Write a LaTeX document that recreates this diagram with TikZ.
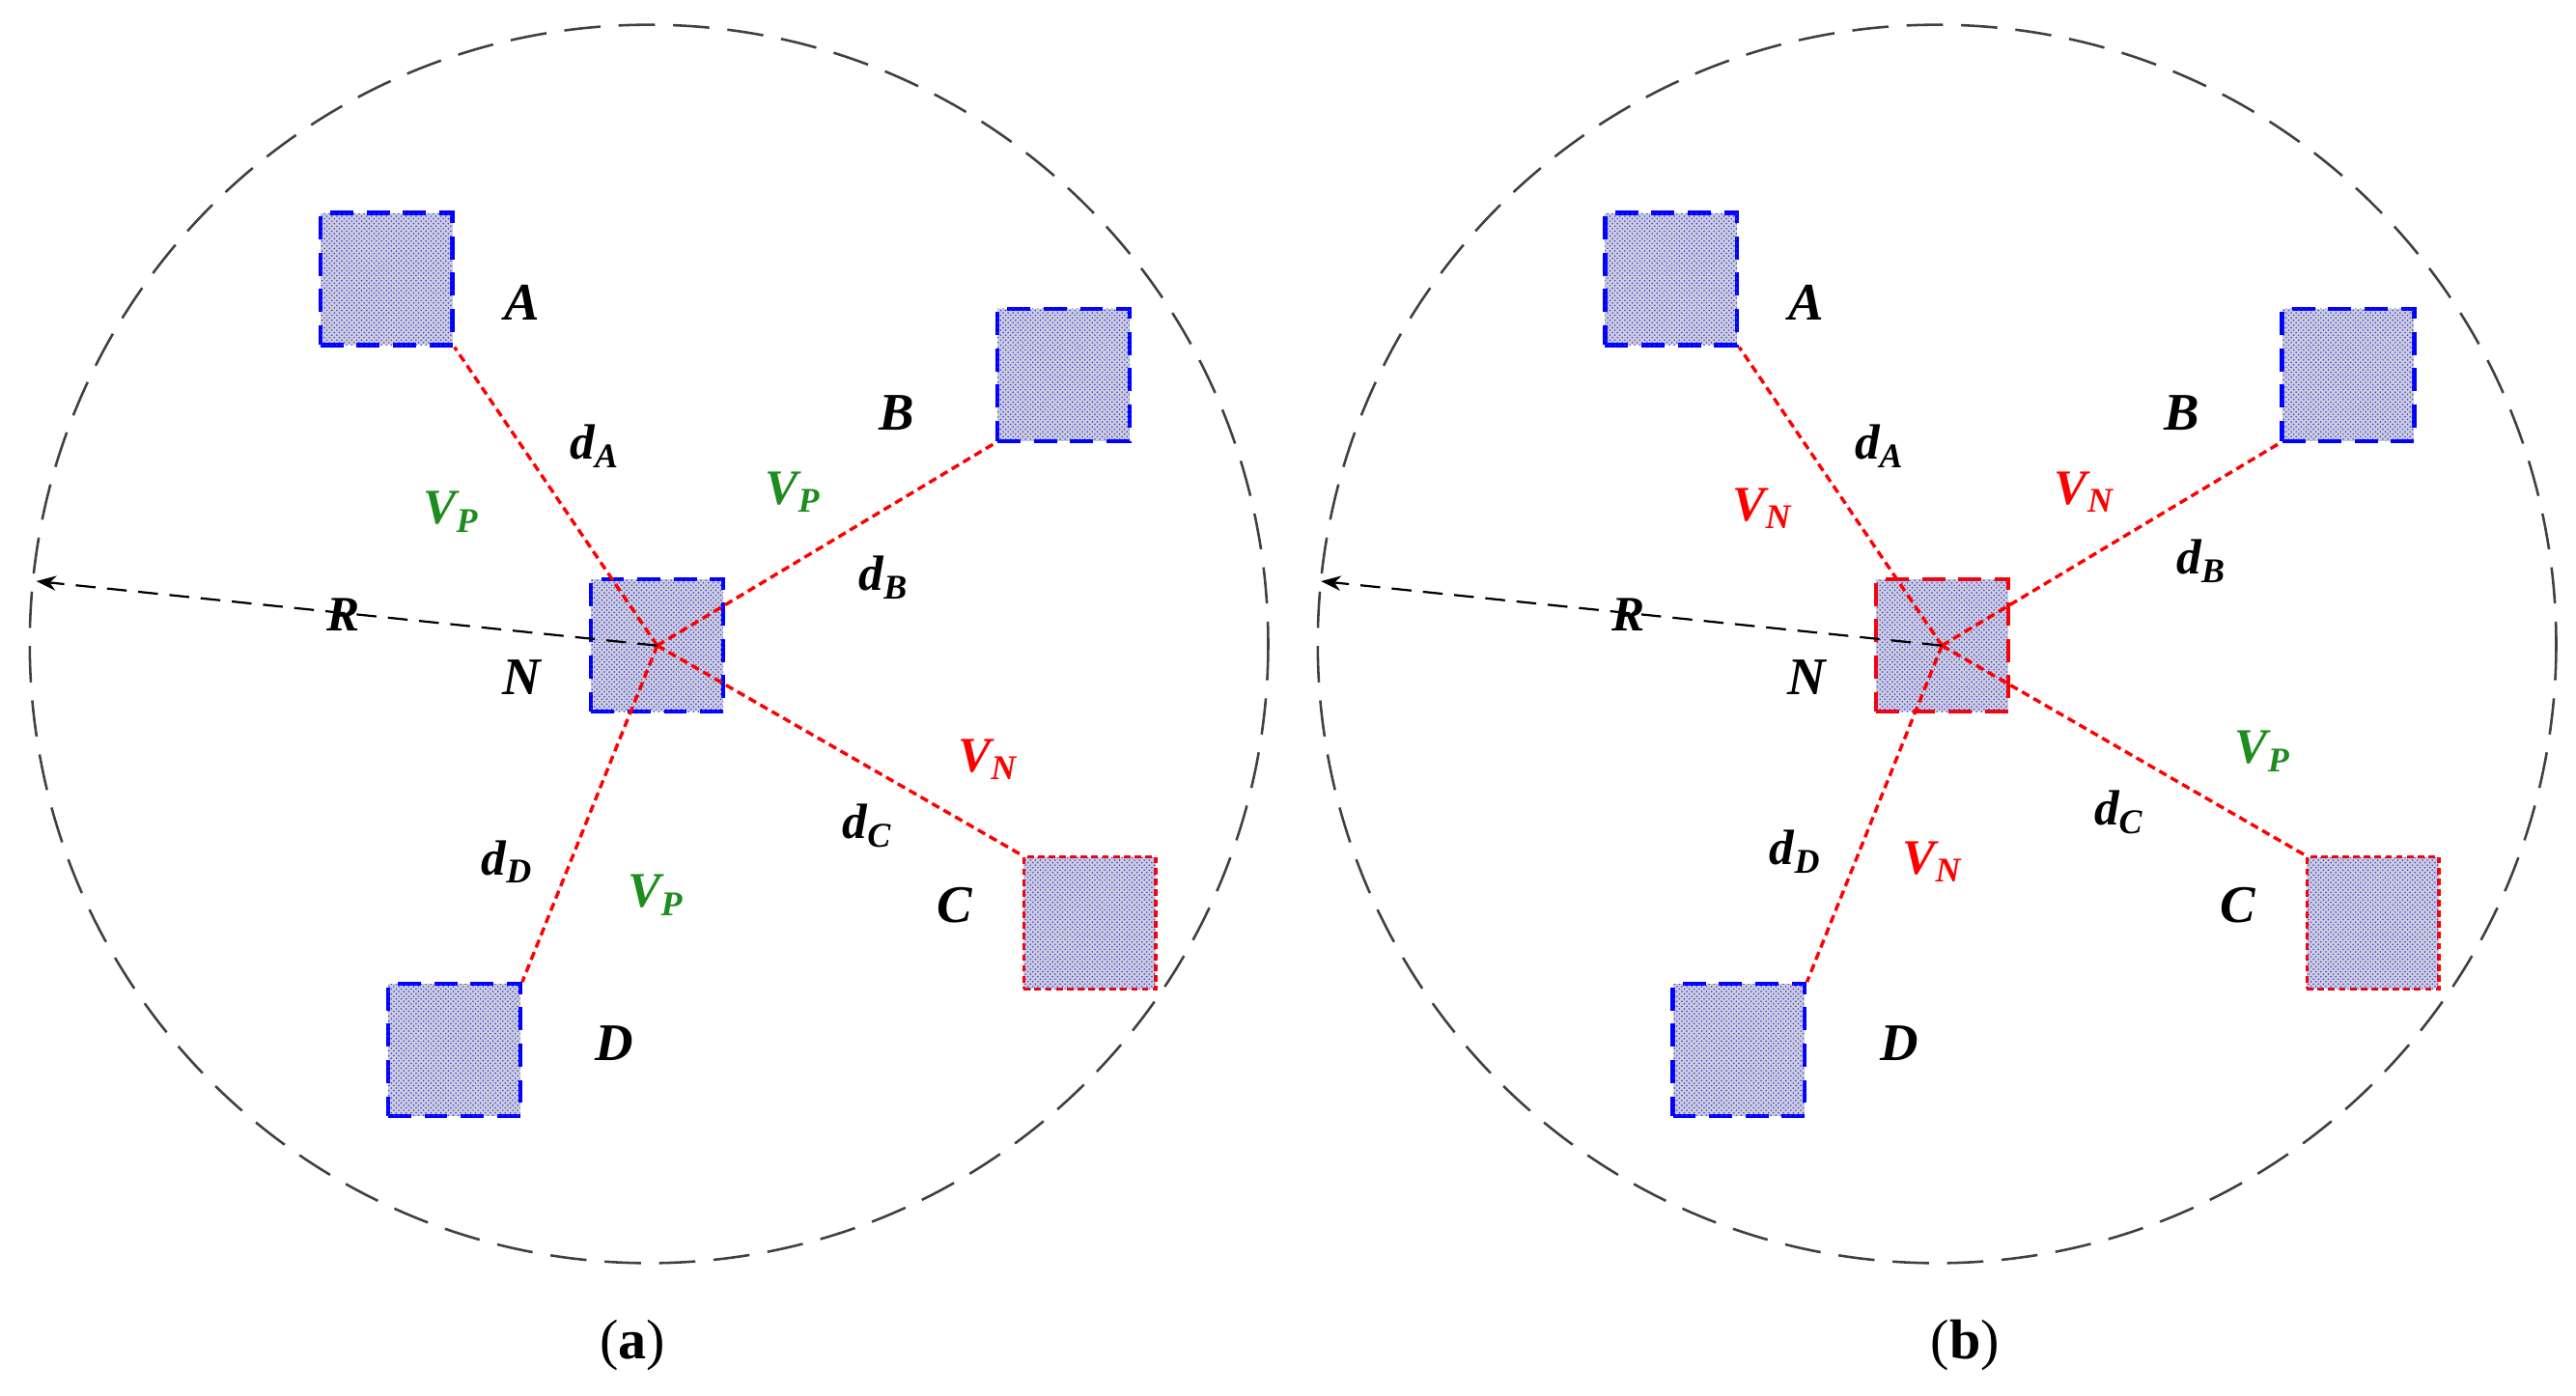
\documentclass[tikz,border=0pt]{standalone}
\usepackage{fontspec}
\setmainfont{Liberation Serif}
\usetikzlibrary{patterns,arrows.meta}
\definecolor{boxgray}{RGB}{205,205,215}
\definecolor{vgreen}{RGB}{30,140,30}
\begin{document}
\begin{tikzpicture}[x=1pt,y=-1pt,
 box/.style={minimum size=80pt,inner sep=0pt,draw=blue,line width=2.5pt,dash pattern=on 14pt off 8pt,
   fill=boxgray,postaction={pattern=crosshatch dots,pattern color=blue!80}},
 rbox/.style={box,draw=red,line width=2pt,dash pattern=on 4pt off 2.5pt},
 link/.style={red,line width=2pt,dash pattern=on 5pt off 3pt},
 rim/.style={draw=black!75,line width=1.5pt,dash pattern=on 22pt off 11pt},
 lab/.style={font=\fontsize{32}{36}\selectfont\bfseries\itshape},
 dl/.style={font=\fontsize{30}{36}\selectfont\bfseries\itshape},
 vp/.style={dl,text=vgreen},
 vn/.style={dl,text=red},
 captxt/.style={font=\fontsize{34}{40}\selectfont}]
\useasboundingbox (0,0) rectangle (1560,845);
% panel a
\draw[rim] (393,390) circle (375);
\node[box] (aN) at (398,391) {};
\node[box] (aA) at (234,169) {};
\node[box] (aB) at (644,227) {};
\node[rbox] (aC) at (660,559) {};
\node[box] (aD) at (275,636) {};
\coordinate (aE) at (22,352);
\draw[link] (aN.center) -- (aA.south east);
\draw[link] (aN.center) -- (aB.south west);
\draw[link] (aN.center) -- (aC.north west);
\draw[link] (aN.center) -- (aD.north east);
\draw[black,line width=1.3pt,dash pattern=on 12pt off 7pt,-{Stealth[length=12pt,width=9pt]}] (aN.center) -- (aE);
\node[dl] (aR) at (208,372) {R};
\node[lab] (aAl) at (316,183) {A};
\node[lab] (aBl) at (543,250) {B};
\node[lab] (aCl) at (578,548) {C};
\node[lab] (aDl) at (372,632) {D};
\node[lab] (aNl) at (316,410) {N};
\node[dl] (adA) at (360,270) {d\textsubscript{A}};
\node[dl] (adB) at (535,350) {d\textsubscript{B}};
\node[dl] (adC) at (525,500) {d\textsubscript{C}};
\node[dl] (adD) at (307,522) {d\textsubscript{D}};
\node[vp] (av1) at (273,310) {V\textsubscript{P}};
\node[vp] (av2) at (480,298) {V\textsubscript{P}};
\node[vn] (av3) at (598,460) {V\textsubscript{N}};
\node[vp] (av4) at (397,542) {V\textsubscript{P}};
\node[captxt] (capa) at (383,815) {(\textbf{a})};
% panel b
\draw[rim] (1173,390) circle (375);
\node[box,draw=red] (bN) at (1176,391) {};
\node[box] (bA) at (1012,169) {};
\node[box] (bB) at (1422,227) {};
\node[rbox] (bC) at (1437,559) {};
\node[box] (bD) at (1053,636) {};
\coordinate (bE) at (800,352);
\draw[link] (bN.center) -- (bA.south east);
\draw[link] (bN.center) -- (bB.south west);
\draw[link] (bN.center) -- (bC.north west);
\draw[link] (bN.center) -- (bD.north east);
\draw[black,line width=1.3pt,dash pattern=on 12pt off 7pt,-{Stealth[length=12pt,width=9pt]}] (bN.center) -- (bE);
\node[dl] (bR) at (986,372) {R};
\node[lab] (bAl) at (1094,183) {A};
\node[lab] (bBl) at (1321,250) {B};
\node[lab] (bCl) at (1355,548) {C};
\node[lab] (bDl) at (1150,632) {D};
\node[lab] (bNl) at (1094,410) {N};
\node[dl] (bdA) at (1138,270) {d\textsubscript{A}};
\node[dl] (bdB) at (1333,340) {d\textsubscript{B}};
\node[dl] (bdC) at (1283,492) {d\textsubscript{C}};
\node[dl] (bdD) at (1087,516) {d\textsubscript{D}};
\node[vn] (bv1) at (1067,308) {V\textsubscript{N}};
\node[vn] (bv2) at (1262,298) {V\textsubscript{N}};
\node[vp] (bv3) at (1370,455) {V\textsubscript{P}};
\node[vn] (bv4) at (1170,522) {V\textsubscript{N}};
\node[captxt] (capb) at (1190,815) {(\textbf{b})};
\end{tikzpicture}
\end{document}
